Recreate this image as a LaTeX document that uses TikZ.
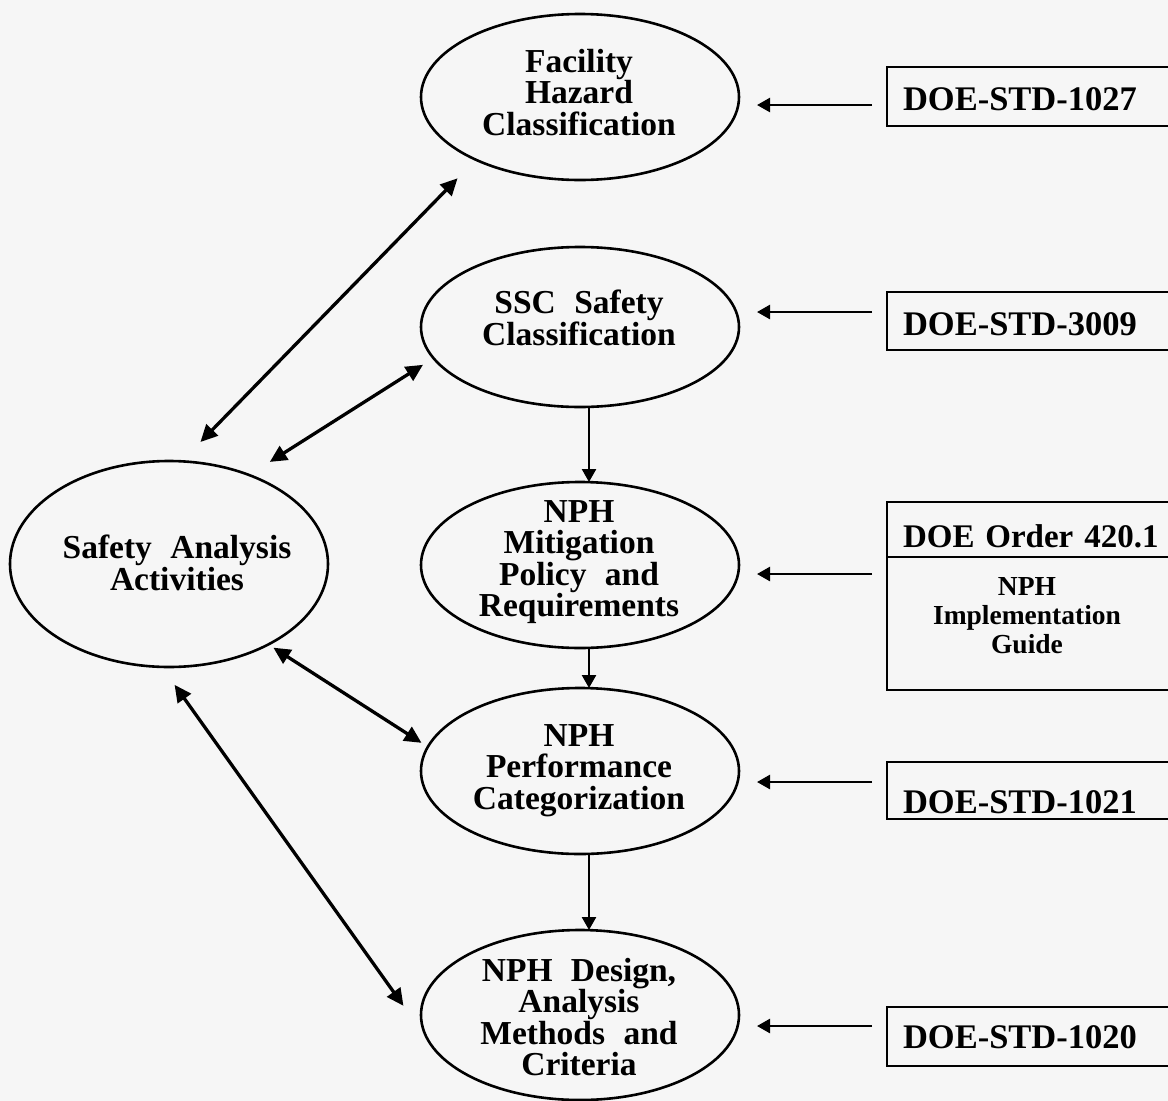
\documentclass[tikz,border=0pt]{standalone}
\usepackage{fontspec}
\setmainfont{Liberation Serif}
\usetikzlibrary{shapes.geometric,arrows.meta}
\definecolor{bgc}{RGB}{246,246,246}
\newcommand\efont{\fontsize{33.5}{31.5}\selectfont\bfseries}
\newcommand\bfont{\fontsize{34.5}{31}\selectfont\bfseries}
\newcommand\ofont{\fontsize{33}{31}\selectfont\bfseries}
\newcommand\gfont{\fontsize{27.5}{29}\selectfont\bfseries}
\newcommand\wsp{\hspace{0.55em}}
\begin{document}
\begin{tikzpicture}[x=1pt,y=-1pt,
  oval/.style={draw, ellipse, line width=2.6pt, minimum width=318pt, inner sep=0pt, outer sep=0pt},
  etext/.style={font=\efont, align=center, inner sep=0pt, anchor=north},
  docbox/.style={draw, line width=2.5pt, anchor=west, inner ysep=0pt, inner xsep=16pt, text width=262pt, align=left, font=\bfont, outer sep=0pt},
  harr/.style={line width=2.5pt, -{Triangle[length=13pt,width=14pt]}, shorten <=15pt, shorten >=18pt},
  varr/.style={line width=2.5pt, -{Triangle[length=13pt,width=14pt]}},
  darr/.style={line width=3.3pt, {Triangle[length=17pt,width=16pt]}-{Triangle[length=17pt,width=16pt]}},
]
\fill[bgc] (0,0) rectangle (1168,1101);
\useasboundingbox (0,0) rectangle (1168,1101);
\clip (0,0) rectangle (1168,1101);

% ellipses
\node[oval, minimum height=166pt] (e1) at (580,97) {};
\node[oval, minimum height=160pt] (e2) at (580,327) {};
\node[oval, minimum height=166pt] (e3) at (580,565) {};
\node[oval, minimum height=166pt] (e4) at (580,771) {};
\node[oval, minimum height=170pt] (e5) at (580,1015) {};
\node[oval, minimum height=206pt] (sa) at (169,564) {};

% ellipse texts
\node[etext] (t1) at (579,49) {Facility\\Hazard\\Classification};
\node[etext] (t2) at (579,290) {SSC\wsp Safety\\Classification};
\node[etext] (t3) at (579,500) {NPH\\Mitigation\\Policy\wsp and\\Requirements};
\node[etext] (t4) at (579,724) {NPH\\Performance\\Categorization};
\node[etext] (t5) at (579,958) {NPH\wsp Design,\\Analysis\\Methods\wsp and\\Criteria};
\node[etext] (t6) at (177,535) {Safety\wsp Analysis\\Activities};

% document boxes
\node[docbox, text height=43pt, text depth=16pt] (b1) at (887,96.5) {DOE-STD-1027};
\node[docbox, text height=43pt, text depth=15pt] (b2) at (887,321) {DOE-STD-3009};
\node[docbox, font=\ofont, text height=45pt, text depth=10pt] (b3t) at (887,529.5) {DOE\hspace{0.33em}Order\hspace{0.33em}420.1};
\node[docbox, minimum height=133pt] (b3b) at (887,623.5) {};
\node[font=\gfont, align=center, inner sep=0pt, anchor=north] (t7) at (1027,577) {NPH\\Implementation\\Guide};
\node[docbox, text height=51pt, text depth=6pt] (b4) at (887,790.5) {DOE-STD-1021};
\node[docbox, text height=41pt, text depth=18pt] (b5) at (887,1036.5) {DOE-STD-1020};

% horizontal arrows
\draw[harr] ([yshift=-8.5pt]b1.west) -- ([yshift=-8pt]e1.east);
\draw[harr] ([yshift=9pt]b2.west) -- ([yshift=15pt]e2.east);
\draw[harr] ([yshift=49.5pt]b3b.west) -- ([yshift=-9pt]e3.east);
\draw[harr] ([yshift=8.5pt]b4.west) -- ([yshift=-11pt]e4.east);
\draw[harr] ([yshift=10.5pt]b5.west) -- ([yshift=-11pt]e5.east);

% vertical arrows
\draw[varr] ([xshift=9pt]e2.south) -- ([xshift=9pt]e3.north);
\draw[varr] ([xshift=9pt]e3.south) -- ([xshift=9pt]e4.north);
\draw[varr] ([xshift=9pt]e4.south) -- ([xshift=9pt]e5.north);

% double arrows
\draw[darr, shorten <=27pt, shorten >=26pt] (sa.83) -- (e1.211);
\draw[darr, shorten <=24.5pt, shorten >=12.5pt] (sa.48) -- (e2.192);
\draw[darr, shorten <=6pt, shorten >=7.5pt] (sa.321) -- (e4.171);
\draw[darr, shorten <=22pt, shorten >=44pt] (sa.266) -- (e5.190);
\end{tikzpicture}
\end{document}
